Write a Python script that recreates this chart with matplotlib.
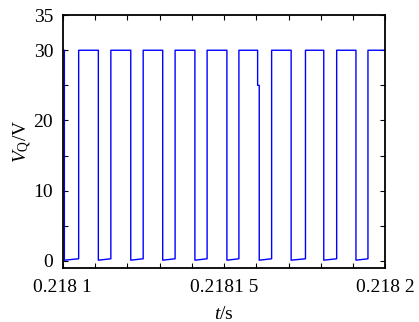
import numpy as np
import matplotlib
matplotlib.use("Agg")
import matplotlib.pyplot as plt

plt.rcParams['font.family'] = ['Liberation Serif', 'DejaVu Serif']
plt.rcParams['mathtext.fontset'] = 'custom'
plt.rcParams['mathtext.rm'] = 'Liberation Serif'
plt.rcParams['mathtext.it'] = 'Liberation Serif:italic'

# edge times, microseconds after 0.2181 s
t0 = 0.2181
fall_us = [0.47, 11.0, 21.05, 30.95, 40.93, 50.85, 60.87, 70.76, 80.87, 90.85]
rise_us = [4.90, 14.88, 24.90, 34.79, 44.71, 54.57, 64.71, 75.2, 84.87, 94.57]
v_high = 30.0
v_low_start = 0.1
v_low_end = 0.3
# small step on the 7th falling edge
step_us = 60.37
step_v = 25.0
end_us = 100.0

t = [0.0]
v = [v_high]
for tf, tr in zip(fall_us, rise_us):
    if tf == fall_us[6]:
        t += [step_us, step_us]
        v += [v_high, step_v]
        t += [tf]
        v += [step_v]
    else:
        t += [tf]
        v += [v_high]
    t += [tf, tr, tr]
    v += [v_low_start, v_low_end, v_high]
t.append(end_us)
v.append(v_high)

t = t0 + np.array(t) * 1e-6
v = np.array(v)

fig = plt.figure(figsize=(4.19, 3.22), dpi=100)
ax = fig.add_axes([0.150, 0.168, 0.770, 0.785])
ax.plot(t, v, color='#0000ff', lw=1.0)

ax.set_xlim(0.2181, 0.2182)
ax.set_ylim(-1, 35)

xt = t0 + np.arange(11) * 1e-5
xl = [''] * 11
xl[0] = '0.218 1'
xl[5] = '0.2181 5'
xl[10] = '0.218 2'
ax.set_xticks(xt)
ax.set_xticklabels(xl)
yt = np.arange(0, 36, 5)
ax.set_yticks(yt)
ax.set_yticklabels(['0', '', '10', '', '20', '', '30', '35'])

ax.tick_params(direction='in', top=True, right=True, length=3.5, width=0.8,
               labelsize=14)
ax.tick_params(axis='x', pad=8)
ax.tick_params(axis='y', pad=7)
for s in ax.spines.values():
    s.set_linewidth(1.3)

ax.set_xlabel(r'$t$/s', fontsize=14, labelpad=7)
ax.set_ylabel(r'$V_{\rm Q}$/V', fontsize=14, labelpad=0)

fig.savefig('out.png', dpi=100)
